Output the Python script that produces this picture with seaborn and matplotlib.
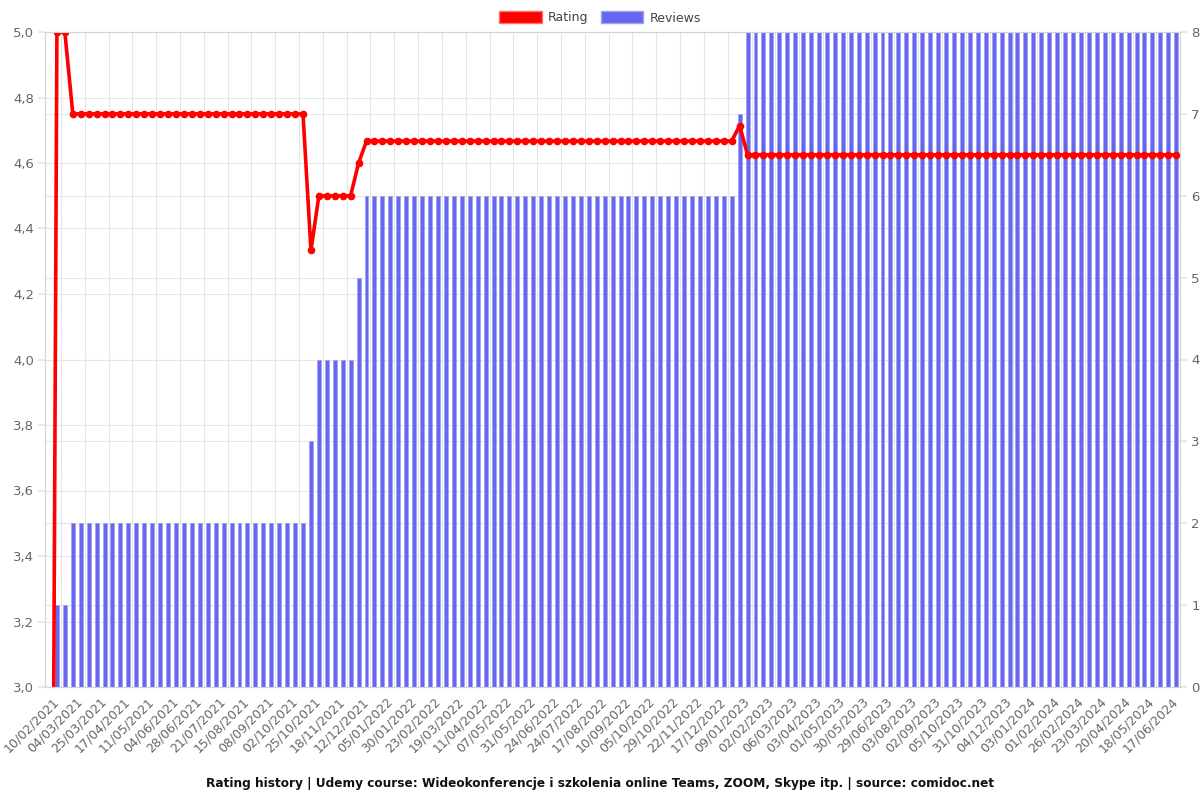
import numpy as np
import pandas as pd
import matplotlib
matplotlib.use("Agg")
import matplotlib.pyplot as plt
import seaborn as sns
from matplotlib.patches import Patch
from matplotlib.ticker import FuncFormatter

# ---- data ----
ratings = ([0.0, 5.0, 5.0] + [4.75] * 30 + [4.333] + [4.5] * 5 + [4.6]
           + [4.667] * 47 + [4.714] + [4.625] * 55)
reviews = ([0, 1, 1] + [2] * 30 + [3] + [4] * 5 + [5]
           + [6] * 47 + [7] + [8] * 55)
tick_labels = [
    "10/02/2021", "04/03/2021", "25/03/2021", "17/04/2021", "11/05/2021", "04/06/2021",
    "28/06/2021", "21/07/2021", "15/08/2021", "08/09/2021", "02/10/2021", "25/10/2021",
    "18/11/2021", "12/12/2021", "05/01/2022", "30/01/2022", "23/02/2022", "19/03/2022",
    "11/04/2022", "07/05/2022", "31/05/2022", "24/06/2022", "24/07/2022", "17/08/2022",
    "10/09/2022", "05/10/2022", "29/10/2022", "22/11/2022", "17/12/2022", "09/01/2023",
    "02/02/2023", "06/03/2023", "03/04/2023", "01/05/2023", "30/05/2023", "29/06/2023",
    "03/08/2023", "02/09/2023", "05/10/2023", "31/10/2023", "04/12/2023", "03/01/2024",
    "01/02/2024", "26/02/2024", "23/03/2024", "20/04/2024", "18/05/2024", "17/06/2024",
]
rating_ticks = [3.0, 3.2, 3.4, 3.6, 3.8, 4.0, 4.2, 4.4, 4.6, 4.8, 5.0]
review_ticks = [0, 1, 2, 3, 4, 5, 6, 7, 8]
title = ("Rating history | Udemy course: Wideokonferencje i szkolenia online Teams, "
         "ZOOM, Skype itp. | source: comidoc.net")

N = len(ratings)
df = pd.DataFrame({"idx": np.arange(N), "rating": ratings, "reviews": reviews})

BAR = "#6666ee"
RED = "#ff0000"
GRID = "#e6e6e6"
TXT = "#666666"

sns.set_theme(style="white")
plt.rcParams["font.family"] = ["DejaVu Sans"]

fig = plt.figure(figsize=(12, 8), dpi=100)
ax = fig.add_axes([0.0375, 0.14125, 0.946, 0.81875])

sns.barplot(data=df, x="idx", y="reviews", color=BAR, saturation=1, width=0.5,
            edgecolor="#a0a0f5", linewidth=0.5, ax=ax)
ax.set_ylim(0, 8)
ax.set_xlim(-0.5, N - 0.5)

# horizontal grid lines for the rating scale (drawn in review units, under the bars)
for r in rating_ticks:
    ax.axhline((r - 3.0) * 4.0, color=GRID, lw=0.8, zorder=0)

ax2 = ax.twinx()
sns.lineplot(data=df, x="idx", y="rating", color=RED, lw=2.6, marker="o",
             markersize=5.5, markeredgecolor=RED, markeredgewidth=0, legend=False, ax=ax2)
ax2.set_ylim(3, 5)
ax2.set_xlim(-0.5, N - 0.5)

# axes sides: rating left, reviews right
ax.yaxis.tick_right()
ax.yaxis.set_label_position("right")
ax2.yaxis.tick_left()
ax2.yaxis.set_label_position("left")

ax.set_yticks(review_ticks)
ax.set_yticklabels([str(v) for v in review_ticks])
ax2.set_yticks(rating_ticks)
ax2.yaxis.set_major_formatter(FuncFormatter(lambda v, p: f"{v:.1f}".replace(".", ",")))

major_pos = [1 + 3 * j for j in range(len(tick_labels))]
minor_pos = [1.5 + 3 * j for j in range(len(tick_labels))]
ax.set_xticks(major_pos)
ax.set_xticklabels(tick_labels, rotation=45, ha="right", va="center",
                   rotation_mode="anchor", fontsize=9, color=TXT)
ax.set_xticks(minor_pos, minor=True)
ax.tick_params(axis="x", which="major", length=0, pad=9)
ax.tick_params(axis="x", which="minor", length=5, color=GRID, width=0.8)
ax.tick_params(axis="y", length=5, color=GRID, labelsize=9.5, labelcolor=TXT, pad=3)
ax2.tick_params(axis="y", length=5, color=GRID, labelsize=9.5, labelcolor=TXT, pad=3)

ax.grid(axis="x", which="minor", color=GRID, lw=0.8)
ax.grid(axis="y", which="major", color=GRID, lw=0.8)
ax.set_axisbelow(True)
ax2.grid(False)

for a in (ax, ax2):
    a.set_xlabel("")
    a.set_ylabel("")
    for s in a.spines.values():
        s.set_color("#d5d5d5")
        s.set_linewidth(0.8)

fig.legend(handles=[Patch(facecolor=RED, edgecolor="#ff7070"),
                    Patch(facecolor=BAR, edgecolor="#a0a0f5")],
           labels=["Rating", "Reviews"], loc="upper center", bbox_to_anchor=(0.5, 1.0),
           ncol=2, frameon=False, handlelength=3.4, handleheight=1.1,
           columnspacing=1.0, handletextpad=0.5, fontsize=9, labelcolor="#444444")

fig.text(0.5, 0.021, title, ha="center", va="center", fontsize=8.7,
         fontweight="bold", color="#111111")

fig.savefig("out.png", dpi=100)
